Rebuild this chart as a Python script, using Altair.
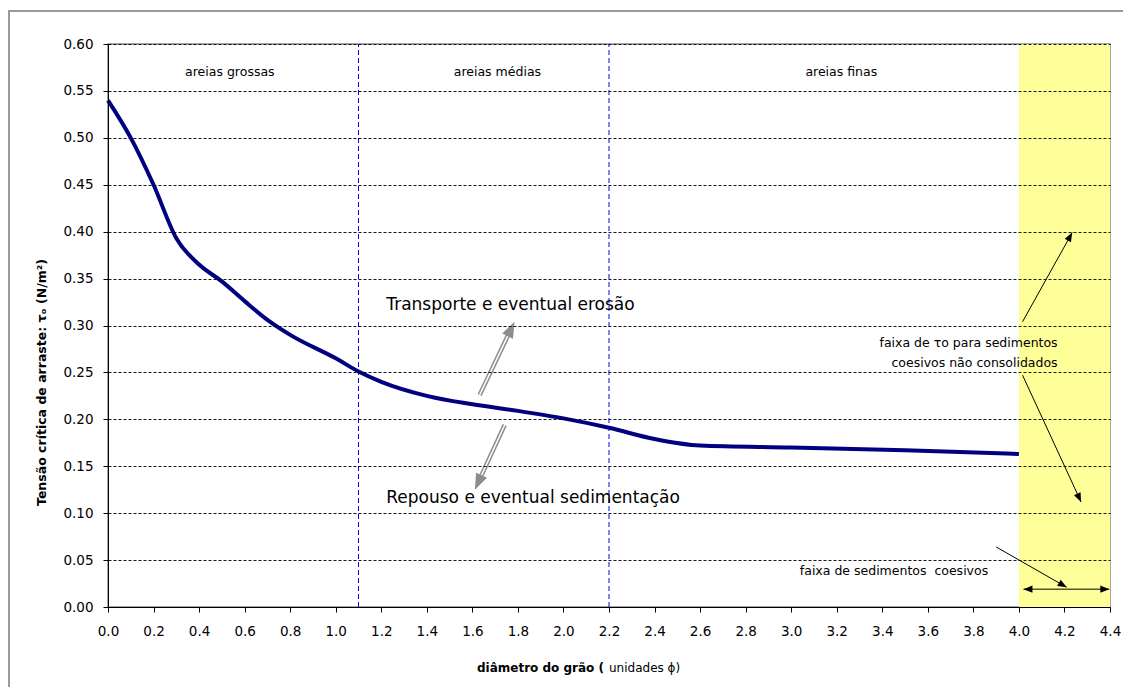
import math
import altair as alt
import pandas as pd

# ---------------- data ----------------
phi = [0.0, 0.1, 0.2, 0.3, 0.4, 0.5, 0.6, 0.7, 0.8, 1.0, 1.1, 1.2, 1.4, 1.6,
       1.8, 2.0, 2.2, 2.4, 2.6, 3.0, 3.5, 4.0]
tau = [0.54, 0.50, 0.45, 0.393, 0.365, 0.347, 0.326, 0.306, 0.29, 0.265, 0.251,
       0.24, 0.225, 0.216, 0.209, 0.201, 0.191, 0.179, 0.172, 0.170, 0.167, 0.163]

zone_names = ["areias grossas", "areias médias", "areias finas"]
zone_phi = [0.535, 1.71, 3.22]
zone_tau = [0.57, 0.57, 0.57]

boundaries = [1.1, 2.2]
band = [4.0, 4.4]

x_ticks = [round(0.2 * i, 1) for i in range(23)]
y_ticks = [round(0.05 * i, 2) for i in range(13)]

big_texts = ["Transporte e eventual erosão", "Repouso e eventual sedimentação"]
big_phi = [1.222, 1.222]
big_tau = [0.322, 0.116]

gray_start = [(1.632, 0.226), (1.742, 0.194)]
gray_end = [(1.785, 0.304), (1.611, 0.125)]

black_start = [(4.016, 0.304), (4.016, 0.247), (3.90, 0.064), (4.215, 0.019), (4.215, 0.019)]
black_end = [(4.234, 0.399), (4.273, 0.112), (4.21, 0.021), (4.02, 0.019), (4.397, 0.019)]

note_lines = ["faixa de \u03c4o para sedimentos", "coesivos não consolidados",
              "faixa de sedimentos \u00a0coesivos"]
note_phi = [4.17, 4.17, 3.865]
note_tau = [0.281, 0.260, 0.038]

# ---------------- geometry helpers ----------------
W, H = 1002, 563
XMAX, YMAX = 4.4, 0.6


def pxd(dx, dy):
    return dx * W / XMAX, -dy * H / YMAX


def angle(a, b):
    ddx, ddy = pxd(b[0] - a[0], b[1] - a[1])
    return math.degrees(math.atan2(ddx, -ddy)) % 360


def shorten(a, b, d):
    ddx, ddy = pxd(b[0] - a[0], b[1] - a[1])
    L = math.hypot(ddx, ddy)
    f = (L - d) / L
    return (a[0] + (b[0] - a[0]) * f, a[1] + (b[1] - a[1]) * f)


xs = alt.Scale(domain=[0, XMAX], nice=False, zero=False)
ys = alt.Scale(domain=[0, YMAX], nice=False)
FONT = "DejaVu Sans"

x_axis = alt.Axis(values=x_ticks, format=".1f", grid=False, title=None,
                  labelFont=FONT, labelFontSize=13.5, labelColor="black",
                  labelFlush=False, labelOverlap=False,
                  domainColor="black", tickColor="black", tickSize=5,
                  labelPadding=12, zindex=1)
y_axis = alt.Axis(values=y_ticks, format=".2f", grid=True, gridColor="black",
                  gridDash=[3, 2], gridWidth=1, gridOpacity=0.9,
                  labelFont=FONT, labelFontSize=13.5, labelColor="black",
                  labelFlush=False, labelOverlap=False,
                  domainColor="black", tickColor="black", tickSize=5,
                  labelPadding=10, zindex=1,
                  title="Tensão crítica de arraste: \u03c4\u2092 (N/m\u00b2)",
                  titleFont=FONT, titleFontSize=12.5, titleFontWeight="bold",
                  titleColor="black", titleX=-67, titleY=338, titleAngle=270,
                  titleAlign="center", titleBaseline="middle")


def X(f="phi"):
    return alt.X(f"{f}:Q", scale=xs, axis=x_axis)


def Y(f="tau"):
    return alt.Y(f"{f}:Q", scale=ys, axis=y_axis)


# ---------------- tables ----------------
curve_df = pd.DataFrame({"phi": phi, "tau": tau})
band_df = pd.DataFrame({"phi": [band[0]], "phi2": [band[1]], "tau": [0.0], "tau2": [YMAX]})
bound_df = pd.DataFrame({"phi": boundaries, "tau": [0.0] * 2, "tau2": [YMAX] * 2})
zone_df = pd.DataFrame({"phi": zone_phi, "tau": zone_tau, "label": zone_names})
big_df = pd.DataFrame({"phi": big_phi, "tau": big_tau, "label": big_texts})
note_df = pd.DataFrame({"phi": note_phi, "tau": note_tau, "label": note_lines})

gray_lines = []
gray_heads = []
for a, b in zip(gray_start, gray_end):
    e = shorten(a, b, 10)
    gray_lines.append({"phi": a[0], "tau": a[1], "phi2": e[0], "tau2": e[1]})
    gray_heads.append({"phi": b[0], "tau": b[1], "ang": angle(a, b)})
gray_line_df = pd.DataFrame(gray_lines)
gray_head_df = pd.DataFrame(gray_heads)

black_lines = []
black_heads = []
for a, b in zip(black_start, black_end):
    black_lines.append({"phi": a[0], "tau": a[1], "phi2": b[0], "tau2": b[1]})
    black_heads.append({"phi": b[0], "tau": b[1], "ang": angle(a, b)})
black_line_df = pd.DataFrame(black_lines)
black_head_df = pd.DataFrame(black_heads)

one = pd.DataFrame({"k": [0]})

# ---------------- layers ----------------
border = alt.Chart(one).mark_rect(fillOpacity=0, stroke="#9a9a9a", strokeWidth=2).encode(
    x=alt.value(-99), x2=alt.value(1100), y=alt.value(-33), y2=alt.value(700))

band_layer = alt.Chart(band_df).mark_rect(color="#FFFF99").encode(
    x=X(), x2="phi2:Q", y=Y(), y2="tau2:Q")

bound_layer = alt.Chart(bound_df).mark_rule(color="#0000EE", strokeDash=[5, 3], strokeWidth=1).encode(
    x=X(), y=Y(), y2="tau2:Q")

curve_layer = alt.Chart(curve_df).mark_line(color="#000080", strokeWidth=4,
                                            interpolate="monotone").encode(x=X(), y=Y())

zone_layer = alt.Chart(zone_df).mark_text(font=FONT, fontSize=12.5, color="black",
                                          align="center", baseline="middle").encode(
    x=X(), y=Y(), text="label:N")

big_layer = alt.Chart(big_df).mark_text(font=FONT, fontSize=17, color="black",
                                        align="left", baseline="middle").encode(
    x=X(), y=Y(), text="label:N")

note_layer = alt.Chart(note_df).mark_text(font=FONT, fontSize=12.5, color="black",
                                          align="right", baseline="middle").encode(
    x=X(), y=Y(), text="label:N")

gray_outer = alt.Chart(gray_line_df).mark_rule(color="#8c8c8c", strokeWidth=4.5).encode(
    x=X(), y=Y(), x2="phi2:Q", y2="tau2:Q")
gray_inner = alt.Chart(gray_line_df).mark_rule(color="white", strokeWidth=1.5).encode(
    x=X(), y=Y(), x2="phi2:Q", y2="tau2:Q")
gray_head = alt.Chart(gray_head_df).mark_point(
    shape="M0,0L-0.75,2L0.75,2Z", size=256, filled=True, color="#8c8c8c", opacity=1).encode(
    x=X(), y=Y(), angle=alt.Angle("ang:Q", scale=None))

black_line = alt.Chart(black_line_df).mark_rule(color="black", strokeWidth=1).encode(
    x=X(), y=Y(), x2="phi2:Q", y2="tau2:Q")
black_head = alt.Chart(black_head_df).mark_point(
    shape="M0,0L-0.8,2L0.8,2Z", size=81, filled=True, color="black", opacity=1).encode(
    x=X(), y=Y(), angle=alt.Angle("ang:Q", scale=None))

xt_bold = alt.Chart(one).mark_text(text="diâmetro do grão (", font=FONT, fontSize=12,
                                   fontWeight="bold", align="right", baseline="middle",
                                   color="black").encode(x=alt.value(496), y=alt.value(624))
xt_norm = alt.Chart(one).mark_text(text="unidades \u03d5)", font=FONT, fontSize=12,
                                   align="left", baseline="middle",
                                   color="black").encode(x=alt.value(501), y=alt.value(624))

chart = alt.layer(
    border, band_layer, bound_layer, curve_layer, zone_layer, big_layer, note_layer,
    gray_outer, gray_inner, gray_head, black_line, black_head, xt_bold, xt_norm
).properties(
    width=W, height=H,
    autosize=alt.AutoSizeParams(type="none"),
    padding={"left": 100, "top": 36, "right": 13, "bottom": 80},
    background="white",
).configure_view(stroke="#888888", strokeWidth=1.5)

chart.save("out.html", embed_options={"renderer": "svg", "actions": False})
